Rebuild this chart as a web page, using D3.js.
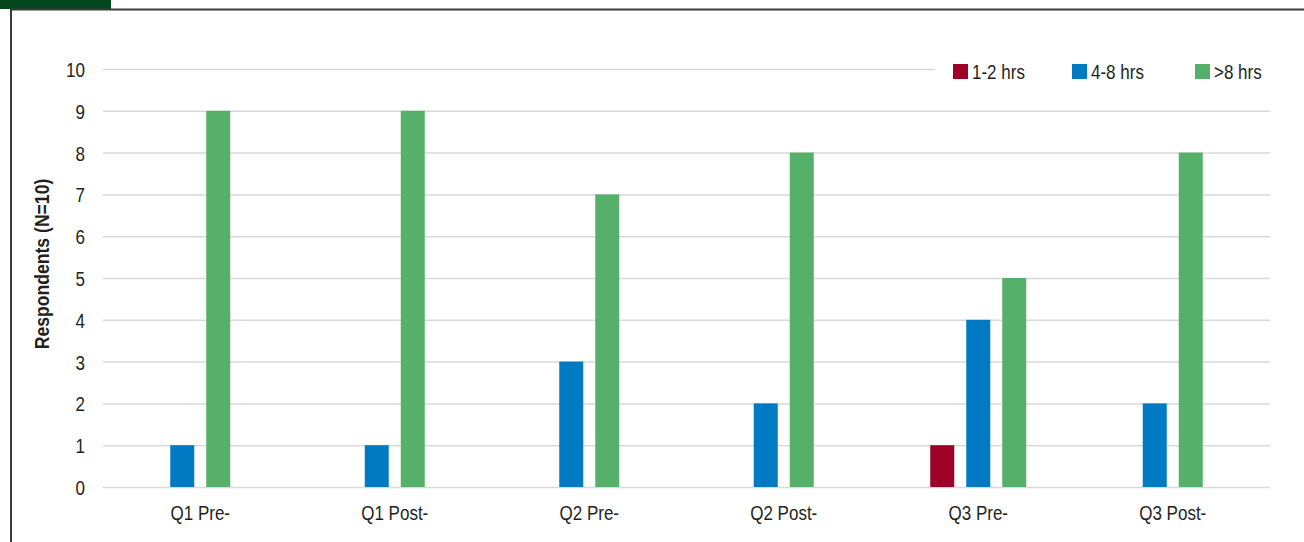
<!DOCTYPE html>
<html>
<head>
<meta charset="utf-8">
<script src="https://cdn.jsdelivr.net/npm/d3@7"></script>
<style>
  html, body { margin: 0; padding: 0; background: #fff; }
  svg { display: block; }
  text { font-family: "Liberation Sans", Arial, sans-serif; fill: #231f20; }
</style>
</head>
<body>
<svg id="chart" width="1304" height="542"></svg>
<script>
// Survey responses: hours of each kind, counted per question before/after
const categories = ["Q1 Pre-", "Q1 Post-", "Q2 Pre-", "Q2 Post-", "Q3 Pre-", "Q3 Post-"];
const seriesNames = ["1-2 hrs", "4-8 hrs", ">8 hrs"];
const hrs1to2 = [0, 0, 0, 0, 1, 0];
const hrs4to8 = [1, 1, 3, 2, 4, 2];
const hrsOver8 = [9, 9, 7, 8, 5, 8];
const yTicks = [0, 1, 2, 3, 4, 5, 6, 7, 8, 9, 10];
const seriesColors = ["#9e0029", "#007ac2", "#56b069"];
const yTitle = "Respondents (N=10)";

const seriesValues = [hrs1to2, hrs4to8, hrsOver8];

// Narrow look: horizontally squeezed sans
const SQ = 0.81;
const FS = 21;

const svg = d3.select("#chart");

// Frame: heading strip and left rule
svg.append("rect").attr("x", 0).attr("y", 0).attr("width", 111).attr("height", 9).attr("fill", "#00471b");
svg.append("line").attr("x1", 10).attr("x2", 1304).attr("y1", 9.5).attr("y2", 9.5)
  .attr("stroke", "#3a3a3a").attr("stroke-width", 2);
svg.append("line").attr("x1", 11).attr("x2", 11).attr("y1", 9).attr("y2", 542)
  .attr("stroke", "#3a3a3a").attr("stroke-width", 2);

const x = d3.scaleBand().domain(categories).range([103, 1270]);
const y = d3.scaleLinear().domain([0, 10]).range([487, 69]);

// Gridlines and y tick labels
const yAxis = d3.axisLeft(y).tickValues(yTicks).tickSize(-(1270 - 103)).tickPadding(18);
const gy = svg.append("g").attr("transform", "translate(103,0)").call(yAxis);
gy.select(".domain").remove();
gy.selectAll(".tick line").attr("stroke", "#d9d9d9").attr("stroke-width", 1.5);
gy.selectAll(".tick text")
  .attr("font-size", FS).style("font-family", null).attr("fill", "#231f20")
  .attr("x", -18 / SQ).attr("dy", "0.36em")
  .attr("transform", `scale(${SQ},1)`);

// Bars: within each question, the non-empty series are centred on the band
const barStep = 36;
categories.forEach((cat, ci) => {
  const present = seriesNames.filter((s, si) => seriesValues[si][ci] > 0);
  const n = present.length;
  const inner = d3.scaleBand().domain(present).range([-n * barStep / 2, n * barStep / 2])
    .paddingInner(1 / 3).paddingOuter(1 / 6);
  const cx = x(cat) + x.bandwidth() / 2;
  const rows = present.map(s => {
    const si = seriesNames.indexOf(s);
    return { s, si, v: seriesValues[si][ci] };
  });
  svg.append("g").selectAll("rect").data(rows).join("rect")
    .attr("x", d => cx + inner(d.s))
    .attr("width", inner.bandwidth())
    .attr("y", d => y(d.v))
    .attr("height", d => y(0) - y(d.v))
    .attr("fill", d => seriesColors[d.si]);
});

// Category labels
const xAxis = d3.axisBottom(x).tickSize(0).tickPadding(18);
const gx = svg.append("g").attr("transform", `translate(0,${y(0)})`).call(xAxis);
gx.select(".domain").remove();
gx.selectAll(".tick text")
  .attr("font-size", FS).style("font-family", null).attr("fill", "#231f20")
  .attr("transform", `scale(${SQ},1)`);

// Y axis title
svg.append("text")
  .attr("transform", `translate(49,264) rotate(-90) scale(0.88,1)`)
  .attr("text-anchor", "middle")
  .attr("font-size", 20).attr("font-weight", "bold")
  .text(yTitle);

// Legend (sits over the top gridline)
const legend = svg.append("g");
legend.append("rect").attr("x", 935).attr("y", 55).attr("width", 336).attr("height", 30).attr("fill", "#fff");
const legendX = [953, 1072, 1195];
seriesNames.forEach((s, i) => {
  legend.append("rect").attr("x", legendX[i]).attr("y", 64).attr("width", 15).attr("height", 15).attr("fill", seriesColors[i]);
  legend.append("text")
    .attr("transform", `translate(${legendX[i] + 19},79) scale(${SQ},1)`)
    .attr("font-size", FS).text(s);
});
</script>
</body>
</html>
